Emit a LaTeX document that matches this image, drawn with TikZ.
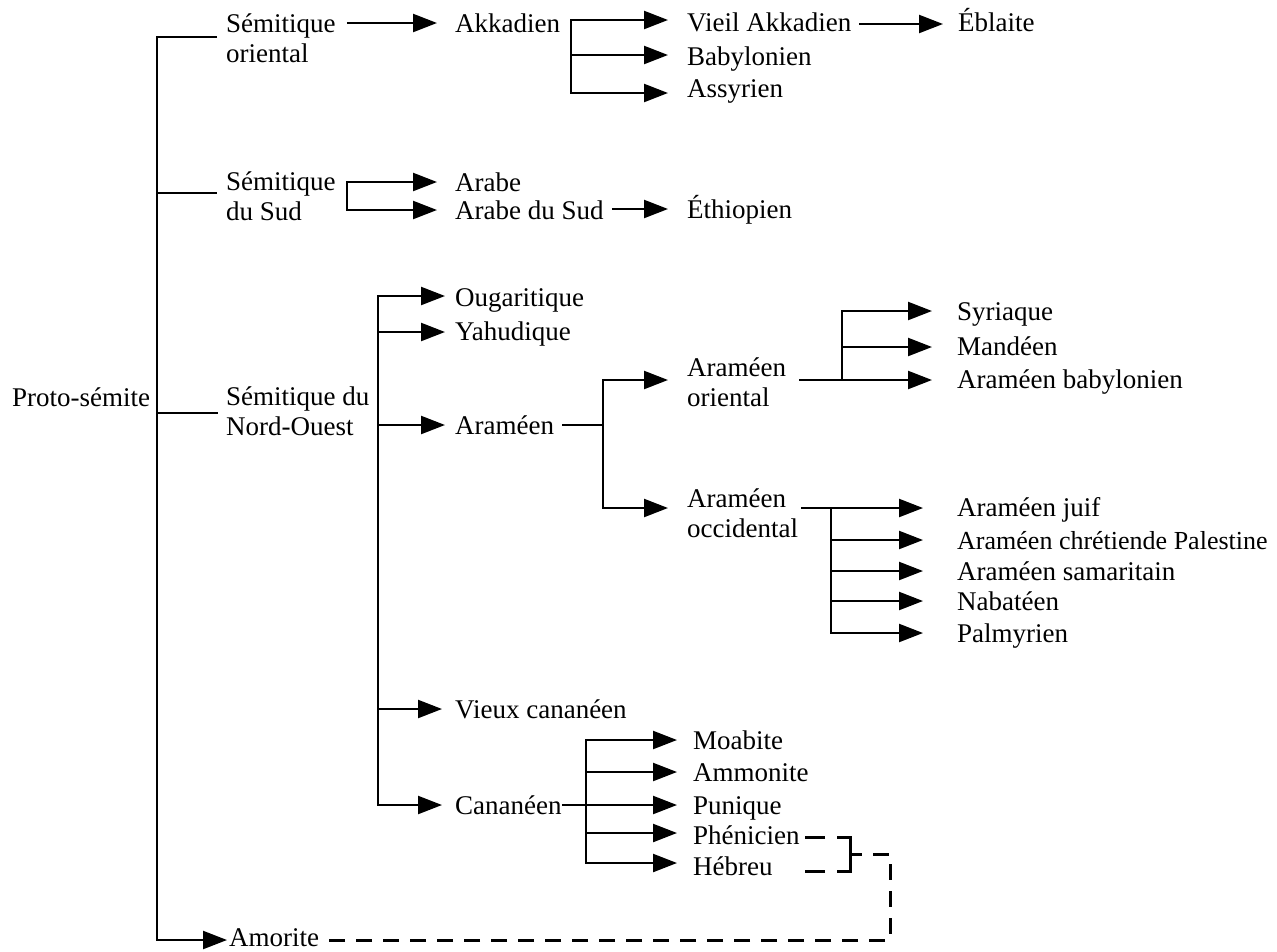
\documentclass[tikz,border=0pt]{standalone}
\usepackage{fontspec}
\setmainfont{Liberation Serif}
\usetikzlibrary{arrows.meta}
\begin{document}
\begin{tikzpicture}[x=1pt,y=-1pt,
  lbl/.style={inner sep=0pt,anchor=base west,align=left,font=\fontsize{27pt}{30pt}\selectfont},
  ln/.style={line width=2.3pt},
  arr/.style={line width=2.3pt,-{Triangle[length=24pt,width=18pt]}},
  arrtwo/.style={line width=2.3pt,{Triangle[length=24pt,width=18pt]}-{Triangle[length=24pt,width=18pt]}},
  dsh/.style={line width=3pt,dash pattern=on 16pt off 11pt},
  dshcorner/.style={line width=3pt,dash pattern=on 30pt off 12pt on 40pt}]
\useasboundingbox (0,0) rectangle (1277,951);

% ---------- nodes (multi-line nodes: base = last line) ----------
\node[lbl] (proto) at (12,406) {Proto-sémite};
\node[lbl] (soriental) at (226,62) {Sémitique\\oriental};
\node[lbl] (ssud) at (226,220) {Sémitique\\du Sud};
\node[lbl] (snw) at (226,435) {Sémitique du\\Nord-Ouest};
\node[lbl] (amorite) at (229,946) {Amorite};

\node[lbl] (akkadien) at (455,32) {Akkadien};
\node[lbl] (vieil) at (687,31) {Vieil Akkadien};
\node[lbl] (babylonien) at (687,65) {Babylonien};
\node[lbl] (assyrien) at (687,97) {Assyrien};
\node[lbl] (eblaite) at (958,31) {Éblaite};

\node[lbl] (arabe) at (455,191) {Arabe};
\node[lbl] (arabesud) at (455,219) {Arabe du Sud};
\node[lbl] (ethiopien) at (687,218) {Éthiopien};

\node[lbl] (ougaritique) at (455,306) {Ougaritique};
\node[lbl] (yahudique) at (455,340) {Yahudique};
\node[lbl] (arameen) at (455,434) {Araméen};
\node[lbl] (aoriental) at (687,406) {Araméen\\oriental};
\node[lbl] (aoccidental) at (687,537) {Araméen\\occidental};

\node[lbl] (syriaque) at (957,320) {Syriaque};
\node[lbl] (mandeen) at (957,355) {Mandéen};
\node[lbl] (ababy) at (957,388) {Araméen babylonien};

\node[lbl] (ajuif) at (957,516) {Araméen juif};
\node[lbl,font=\fontsize{26pt}{30pt}\selectfont] (achret) at (957,549) {Araméen chrétiende Palestine};
\node[lbl] (asamar) at (957,580) {Araméen samaritain};
\node[lbl] (nabateen) at (957,610) {Nabatéen};
\node[lbl] (palmyrien) at (957,642) {Palmyrien};

\node[lbl] (vieuxcan) at (455,718) {Vieux cananéen};
\node[lbl] (cananeen) at (455,814) {Cananéen};
\node[lbl] (moabite) at (693,749) {Moabite};
\node[lbl] (ammonite) at (693,781) {Ammonite};
\node[lbl] (punique) at (693,814) {Punique};
\node[lbl] (phenicien) at (693,844) {Phénicien};
\node[lbl] (hebreu) at (693,875) {Hébreu};

% ---------- main bracket ----------
\coordinate (m1) at (157,37);
\coordinate (m2) at (157,193);
\coordinate (m3) at (157,413);
\coordinate (m4) at (157,940);
\draw[arr] ([xshift=-9pt]soriental.west |- m1) -- (m1) -- (m4) -- ([shift={(-2,-6)}]amorite.base west);
\draw[ln] (m2) -- ([xshift=-9pt]ssud.west |- m2);
\draw[ln] (m3) -- ([xshift=-8pt]snw.west |- m3);

% ---------- Sémitique oriental ----------
\coordinate (tAkk) at ([shift={(-18,-9)}]akkadien.base west);
\draw[arr] ([xshift=11pt]soriental.east |- tAkk) -- (tAkk);

\coordinate (ak) at (571,0);
\coordinate (tVie) at ([shift={(-19,-11)}]vieil.base west);
\coordinate (tBab) at ([shift={(-19,-10)}]babylonien.base west);
\coordinate (tAss) at ([shift={(-19,-4)}]assyrien.base west);
\draw[arrtwo] (tVie) -- (ak |- tVie) -- (ak |- tAss) -- (tAss);
\draw[arr] (ak |- tBab) -- (tBab);

\coordinate (tEbl) at ([shift={(-15,-7)}]eblaite.base west);
\draw[arr] ([xshift=8pt]vieil.east |- tEbl) -- (tEbl);

% ---------- Sémitique du Sud ----------
\coordinate (sd) at (347,0);
\coordinate (tAra) at ([shift={(-18,-9)}]arabe.base west);
\coordinate (tAsu) at ([shift={(-18,-9)}]arabesud.base west);
\draw[arrtwo] (tAra) -- (sd |- tAra) -- (sd |- tAsu) -- (tAsu);

\coordinate (tEth) at ([shift={(-19,-9)}]ethiopien.base west);
\draw[arr] ([xshift=8pt]arabesud.east |- tEth) -- (tEth);

% ---------- Sémitique du Nord-Ouest ----------
\coordinate (nw) at (378,0);
\coordinate (tOug) at ([shift={(-10,-10)}]ougaritique.base west);
\coordinate (tYah) at ([shift={(-10,-8)}]yahudique.base west);
\coordinate (tAram) at ([shift={(-10,-9)}]arameen.base west);
\coordinate (tVcan) at ([shift={(-13,-9)}]vieuxcan.base west);
\coordinate (tCan) at ([shift={(-13,-9)}]cananeen.base west);
\draw[arrtwo] (tOug) -- (nw |- tOug) -- (nw |- tCan) -- (tCan);
\draw[arr] (nw |- tYah) -- (tYah);
\draw[arr] (nw |- tAram) -- (tAram);
\draw[arr] (nw |- tVcan) -- (tVcan);

% ---------- Araméen ----------
\coordinate (ar) at (603,0);
\coordinate (tAor) at ([shift={(-19,-26)}]aoriental.base west);
\coordinate (tAoc) at ([shift={(-19,-29)}]aoccidental.base west);
\draw[ln] ([xshift=8pt]arameen.east |- tAram) -- (ar |- tAram);
\draw[arrtwo] (tAor) -- (ar |- tAor) -- (ar |- tAoc) -- (tAoc);

% ---------- Araméen oriental ----------
\coordinate (ao) at (842,0);
\coordinate (tSyr) at ([shift={(-25,-9)}]syriaque.base west);
\coordinate (tMan) at ([shift={(-25,-8)}]mandeen.base west);
\coordinate (tBaby) at ([shift={(-25,-8)}]ababy.base west);
\draw[arr] ([xshift=13pt]aoriental.east |- tBaby) -- (tBaby);
\draw[arr] (ao |- tBaby) -- (ao |- tSyr) -- (tSyr);
\draw[arr] (ao |- tMan) -- (tMan);

% ---------- Araméen occidental ----------
\coordinate (oc) at (831,0);
\coordinate (tJuif) at ([shift={(-34,-8)}]ajuif.base west);
\coordinate (tChr) at ([shift={(-34,-9)}]achret.base west);
\coordinate (tSam) at ([shift={(-34,-9)}]asamar.base west);
\coordinate (tNab) at ([shift={(-34,-9)}]nabateen.base west);
\coordinate (tPal) at ([shift={(-34,-9)}]palmyrien.base west);
\draw[arr] ([xshift=3pt]aoccidental.east |- tJuif) -- (tJuif);
\draw[arr] (oc |- tJuif) -- (oc |- tPal) -- (tPal);
\draw[arr] (oc |- tChr) -- (tChr);
\draw[arr] (oc |- tSam) -- (tSam);
\draw[arr] (oc |- tNab) -- (tNab);

% ---------- Cananéen ----------
\coordinate (cn) at (586,0);
\coordinate (tMoa) at ([shift={(-16,-9)}]moabite.base west);
\coordinate (tAmm) at ([shift={(-16,-9)}]ammonite.base west);
\coordinate (tPun) at ([shift={(-16,-9)}]punique.base west);
\coordinate (tPhe) at ([shift={(-16,-11)}]phenicien.base west);
\coordinate (tHeb) at ([shift={(-16,-12)}]hebreu.base west);
\draw[arr] (cananeen.east |- tPun) -- (tPun);
\draw[arrtwo] (tMoa) -- (cn |- tMoa) -- (cn |- tHeb) -- (tHeb);
\draw[arr] (cn |- tAmm) -- (tAmm);
\draw[arr] (cn |- tPhe) -- (tPhe);

% ---------- dashed links ----------
\coordinate (dp) at ([shift={(5,-7)}]phenicien.base east);
\coordinate (hb) at ([shift={(0,-4)}]hebreu.base west);
\coordinate (dh) at (dp |- hb);
\coordinate (d1) at (850,854);
\coordinate (d2) at (890,854);
\coordinate (amo) at ([shift={(2,-6)}]amorite.base east);
\draw[dshcorner] (d1) -- (d1 |- dp) -- (dp);
\draw[dshcorner] (d1) -- (d1 |- dh) -- (dh);
\draw[dsh,dash phase=4pt] (d1) -- (d2) -- (d2 |- amo) -- (amo);
\end{tikzpicture}
\end{document}
